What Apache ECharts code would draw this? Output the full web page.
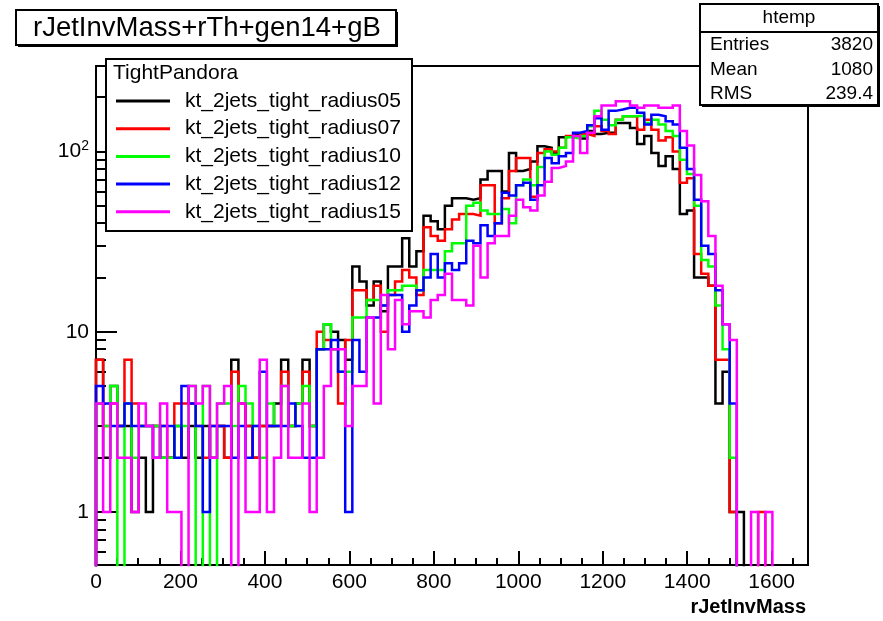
<!DOCTYPE html>
<html>
<head>
<meta charset="utf-8">
<title>rJetInvMass+rTh+gen14+gB</title>
<script src="https://cdn.jsdelivr.net/npm/echarts@6/dist/echarts.min.js"></script>
<style>
  html, body { margin: 0; padding: 0; background: #ffffff; }
  #chart { width: 883px; height: 621px; }
</style>
</head>
<body>
<div id="chart"></div>
<script>
// ---- histogram definition: 100 equal bins over [histMin, histMax] ----
const histMin = 0;
const histMax = 1686;
const nBins = 100;

const histTitle = 'rJetInvMass+rTh+gen14+gB';
const legendHeader = 'TightPandora';
const xAxisTitle = 'rJetInvMass';
const seriesNames = [
  'kt_2jets_tight_radius05',
  'kt_2jets_tight_radius07',
  'kt_2jets_tight_radius10',
  'kt_2jets_tight_radius12',
  'kt_2jets_tight_radius15'
];

// bin contents (entries per bin), bin 0 .. bin 99
const radius05 = [
  7, 2, 5, 3, 3, 1, 2, 1, 3, 2,
  2, 3, 2, 3, 2, 3, 2, 3, 2, 7,
  4, 3, 2, 3, 3, 4, 7, 3, 4, 7,
  3, 8, 11, 10, 9, 7, 23, 19, 14, 19,
  13, 23, 23, 33, 23, 28, 44, 41, 37, 50,
  55, 55, 54, 55, 70, 78, 78, 60, 98, 78,
  80, 88, 107, 105, 98, 120, 122, 125, 118, 130,
  125, 127, 127, 144, 144, 135, 110, 122, 98, 83,
  94, 80, 45, 47, 20, 20, 18, 4, 6, 1,
  1, 0, 0, 0, 0, 0, 0, 0, 0, 0
];
const radius07 = [
  7, 3, 4, 3, 7, 4, 3, 3, 3, 3,
  2, 4, 4, 4, 3, 2, 3, 3, 2, 6,
  4, 3, 2, 3, 3, 3, 6, 3, 4, 6,
  3, 10, 9, 8, 4, 9, 17, 17, 15, 18,
  10, 16, 19, 22, 20, 16, 38, 34, 32, 37,
  42, 45, 45, 44, 65, 65, 40, 55, 78, 92,
  92, 56, 98, 103, 100, 105, 122, 120, 125, 122,
  138, 130, 125, 150, 157, 157, 132, 150, 132, 115,
  120, 100, 67, 71, 27, 21, 18, 7, 7, 1,
  0, 0, 0, 1, 0, 0, 0, 0, 0, 0
];
const radius10 = [
  4, 3, 5, 0, 4, 2, 3, 3, 3, 2,
  2, 3, 3, 5, 0, 5, 0, 4, 4, 3,
  5, 4, 3, 2, 4, 3, 5, 3, 4, 5,
  3, 8, 11, 8, 6, 6, 12, 12, 15, 15,
  14, 17, 17, 18, 18, 17, 22, 22, 22, 28,
  31, 31, 50, 52, 47, 45, 45, 48, 40, 65,
  70, 65, 82, 100, 96, 105, 120, 118, 122, 138,
  168, 150, 140, 150, 157, 157, 158, 144, 150, 141,
  130, 122, 90, 75, 50, 25, 23, 14, 8, 2,
  0, 0, 0, 0, 0, 0, 0, 0, 0, 0
];
const radius12 = [
  5, 4, 3, 3, 4, 3, 3, 3, 2, 3,
  3, 2, 5, 4, 3, 1, 3, 3, 3, 2,
  3, 2, 3, 6, 3, 3, 3, 4, 3, 2,
  2, 8, 8, 9, 6, 1, 9, 6, 12, 12,
  14, 16, 16, 10, 14, 17, 20, 27, 20, 24,
  22, 24, 32, 31, 39, 34, 40, 59, 57, 65,
  67, 54, 65, 92, 86, 94, 98, 127, 130, 140,
  153, 132, 168, 171, 175, 175, 164, 141, 160, 157,
  147, 141, 105, 80, 54, 30, 27, 17, 11, 4,
  0, 0, 0, 0, 0, 0, 0, 0, 0, 0
];
const radius15 = [
  4, 1, 4, 2, 2, 1, 4, 3, 2, 4,
  1, 1, 0, 5, 4, 5, 2, 4, 5, 0,
  4, 1, 1, 7, 1, 2, 5, 2, 2, 4,
  1, 2, 5, 8, 8, 3, 5, 5, 12, 4,
  16, 8, 15, 11, 13, 13, 12, 15, 16, 21,
  15, 15, 14, 30, 20, 31, 34, 34, 44, 54,
  49, 47, 57, 68, 81, 83, 88, 122, 98, 127,
  157, 180, 180, 190, 190, 180, 175, 180, 180, 175,
  175, 180, 130, 108, 74, 53, 34, 18, 11, 9,
  0, 0, 1, 0, 1, 0, 0, 0, 0, 0
];
const seriesValues = [radius05, radius07, radius10, radius12, radius15];

// axes
const yMin = 0.508;
const yMax = 298;
const xTickValues = [0, 200, 400, 600, 800, 1000, 1200, 1400, 1600];
const xTickLabels = ['0', '200', '400', '600', '800', '1000', '1200', '1400', '1600'];
const yTickValues = [1, 10, 100];
const yTickLabels = ['1', '10', '10^2'];
const yMinorTickValues = [0.6, 0.7, 0.8, 0.9, 2, 3, 4, 5, 6, 7, 8, 9, 20, 30, 40, 50, 60, 70, 80, 90, 200];

// statistics box of the first histogram
const statsName = 'htemp';
const statsLabels = ['Entries', 'Mean', 'RMS'];
const statsValues = ['3820', '1080', '239.4'];

// ---- styling ----
const lineColors = ['#000000', '#ff0000', '#00ff00', '#0000ff', '#ff00ff'];
const FONT = '"Liberation Sans", Arial, Helvetica, sans-serif';
const FRAME = { left: 96, top: 66, right: 808, bottom: 565 };

// minor x ticks every 50 between the labelled ones
const xMinorTickValues = [];
for (let v = 50; v < histMax; v += 50) {
  if (v % 200 !== 0) xMinorTickValues.push(v);
}

// empty bins sit below the visible range and are clipped by the frame
const BELOW = 0.1;
function histOutline(values) {
  const w = (histMax - histMin) / nBins;
  const pts = [[histMin, BELOW]];
  values.forEach(function (v, i) {
    pts.push([histMin + i * w, v > 0 ? v : BELOW]);
  });
  const last = values[values.length - 1];
  pts.push([histMax, last > 0 ? last : BELOW]);
  pts.push([histMax, BELOW]);
  return pts;
}

const chart = echarts.init(document.getElementById('chart'), null, { renderer: 'canvas' });

const gridBox = {
  left: FRAME.left,
  top: FRAME.top,
  width: FRAME.right - FRAME.left,
  height: FRAME.bottom - FRAME.top
};

const series = seriesValues.map(function (vals, i) {
  return {
    name: seriesNames[i],
    type: 'line',
    xAxisIndex: 0,
    yAxisIndex: 0,
    step: 'end',
    symbol: 'none',
    clip: true,
    data: histOutline(vals),
    lineStyle: { color: lineColors[i], width: 2.5, cap: 'butt', join: 'miter' },
    z: 2 + i,
    silent: true
  };
});

// legend, title and statistics boxes
const graphics = [];

// title box with shadow
graphics.push({
  type: 'rect', z: 100,
  shape: { x: 18, y: 12, width: 380, height: 35 },
  style: { fill: '#000000' }
});
graphics.push({
  type: 'rect', z: 101,
  shape: { x: 16, y: 10, width: 380, height: 35 },
  style: { fill: '#ffffff', stroke: '#000000', lineWidth: 2 }
});
graphics.push({
  type: 'text', z: 102,
  style: {
    x: 33, y: 28, text: histTitle, fill: '#000000',
    font: '27.5px ' + FONT, textVerticalAlign: 'middle', textAlign: 'left'
  }
});

// statistics box
const sb = { x: 700, y: 4, w: 178, h: 101 };
graphics.push({
  type: 'rect', z: 100,
  shape: { x: sb.x + 2, y: sb.y + 2, width: sb.w, height: sb.h },
  style: { fill: '#000000' }
});
graphics.push({
  type: 'rect', z: 101,
  shape: { x: sb.x, y: sb.y, width: sb.w, height: sb.h },
  style: { fill: '#ffffff', stroke: '#000000', lineWidth: 2 }
});
graphics.push({
  type: 'line', z: 102,
  shape: { x1: sb.x, y1: 32, x2: sb.x + sb.w, y2: 32 },
  style: { stroke: '#000000', lineWidth: 2 }
});
graphics.push({
  type: 'text', z: 102,
  style: {
    x: sb.x + sb.w / 2, y: 18, text: statsName, fill: '#000000',
    font: '19px ' + FONT, textAlign: 'center', textVerticalAlign: 'middle'
  }
});
statsLabels.forEach(function (lab, i) {
  const yy = 45 + i * 24.5;
  graphics.push({
    type: 'text', z: 102,
    style: { x: sb.x + 10, y: yy, text: lab, fill: '#000000',
      font: '19px ' + FONT, textAlign: 'left', textVerticalAlign: 'middle' }
  });
  graphics.push({
    type: 'text', z: 102,
    style: { x: sb.x + sb.w - 5, y: yy, text: statsValues[i], fill: '#000000',
      font: '19px ' + FONT, textAlign: 'right', textVerticalAlign: 'middle' }
  });
});

// legend box
const lb = { x: 106, y: 59, w: 306, h: 172 };
graphics.push({
  type: 'rect', z: 100,
  shape: { x: lb.x, y: lb.y, width: lb.w, height: lb.h },
  style: { fill: '#ffffff', stroke: '#000000', lineWidth: 2 }
});
graphics.push({
  type: 'text', z: 102,
  style: { x: lb.x + 7, y: 73, text: legendHeader, fill: '#000000',
    font: '21px ' + FONT, textAlign: 'left', textVerticalAlign: 'middle' }
});
seriesNames.forEach(function (name, i) {
  const yy = 101 + i * 27.7;
  graphics.push({
    type: 'line', z: 102,
    shape: { x1: 116, y1: yy, x2: 170, y2: yy },
    style: { stroke: lineColors[i], lineWidth: 3 }
  });
  graphics.push({
    type: 'text', z: 102,
    style: { x: 185, y: yy, text: name, fill: '#000000',
      font: '21px ' + FONT, textAlign: 'left', textVerticalAlign: 'middle' }
  });
});

// x axis title
graphics.push({
  type: 'text', z: 102,
  style: { x: 806, y: 607, text: xAxisTitle, fill: '#000000',
    font: 'bold 20px ' + FONT, textAlign: 'right', textVerticalAlign: 'middle' }
});

const option = {
  animation: false,
  backgroundColor: '#ffffff',
  grid: [
    Object.assign({ show: true, borderColor: '#000000', borderWidth: 2, backgroundColor: 'transparent' }, gridBox),
    Object.assign({ show: false }, gridBox)
  ],
  xAxis: [
    {
      type: 'value', gridIndex: 0, min: histMin, max: histMax, position: 'bottom',
      axisLine: { show: true, onZero: false, lineStyle: { color: '#000000', width: 2 } },
      axisTick: { show: true, inside: true, length: 14, customValues: xTickValues,
        lineStyle: { color: '#000000', width: 2 } },
      axisLabel: {
        show: true, customValues: xTickValues, margin: 7, color: '#000000',
        fontFamily: FONT, fontSize: 21,
        formatter: function (v) { return xTickLabels[xTickValues.indexOf(v)]; }
      },
      splitLine: { show: false }
    },
    {
      type: 'value', gridIndex: 1, min: histMin, max: histMax, position: 'bottom',
      axisLine: { show: false },
      axisTick: { show: true, inside: true, length: 7, customValues: xMinorTickValues,
        lineStyle: { color: '#000000', width: 2 } },
      axisLabel: { show: false },
      splitLine: { show: false }
    }
  ],
  yAxis: [
    {
      type: 'log', logBase: 10, gridIndex: 0, min: yMin, max: yMax, position: 'left',
      axisLine: { show: true, onZero: false, lineStyle: { color: '#000000', width: 2 } },
      axisTick: { show: true, inside: true, length: 21, customValues: yTickValues,
        lineStyle: { color: '#000000', width: 2 } },
      axisLabel: {
        show: true, customValues: yTickValues, margin: 7, color: '#000000',
        fontFamily: FONT, fontSize: 21,
        formatter: function (v) {
          const s = yTickLabels[yTickValues.indexOf(v)] || '';
          const parts = s.split('^');
          return parts.length > 1 ? '{b|' + parts[0] + '}{e|' + parts[1] + '}' : '{b|' + s + '}';
        },
        rich: {
          b: { fontFamily: FONT, fontSize: 21, color: '#000000' },
          e: { fontFamily: FONT, fontSize: 14, color: '#000000', padding: [0, 0, 10, 0] }
        }
      },
      splitLine: { show: false },
      minorTick: { show: false }
    },
    {
      type: 'log', logBase: 10, gridIndex: 1, min: yMin, max: yMax, position: 'left',
      axisLine: { show: false },
      axisTick: { show: true, inside: true, length: 10, customValues: yMinorTickValues,
        lineStyle: { color: '#000000', width: 2 } },
      axisLabel: { show: false },
      splitLine: { show: false }
    }
  ],
  graphic: graphics,
  series: series
};

chart.setOption(option);
</script>
</body>
</html>
